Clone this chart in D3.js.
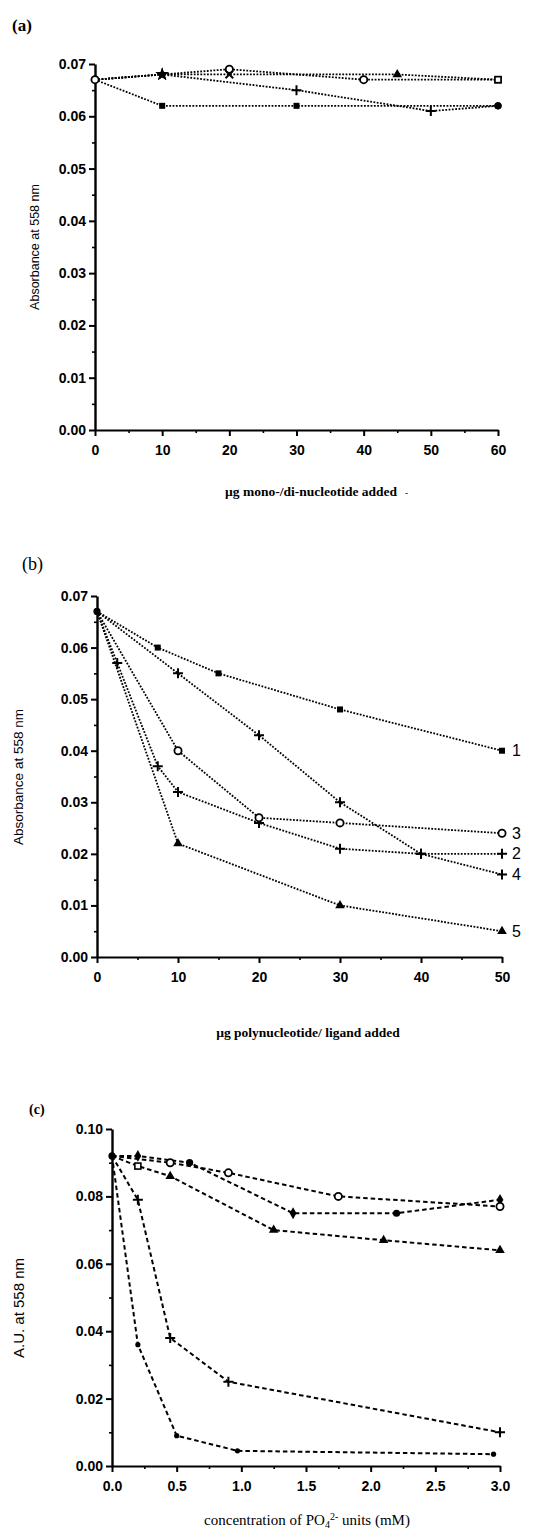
<!DOCTYPE html>
<html><head><meta charset="utf-8">
<script src="https://cdn.jsdelivr.net/npm/d3@7"></script>
<style>
html,body{margin:0;padding:0;background:#fff;}
svg{display:block;}
.tick text{font-family:"Liberation Sans",Arial,sans-serif;font-weight:bold;font-size:14px;fill:#000;}
</style></head><body>
<svg id="chart" width="557" height="1529"></svg>
<script>
// ---------- Panel (a) data ----------
const aTicksX = [0,10,20,30,40,50,60];
const aMinorX = [5,15,25,35,45,55];
const aTicksY = [0,0.01,0.02,0.03,0.04,0.05,0.06,0.07];
const aMinorY = [0.005,0.015,0.025,0.035,0.045,0.055,0.065];
const a1X = [0,10,30,60],        a1Y = [0.067,0.062,0.062,0.062];
const a2X = [0,10,30,50,60],     a2Y = [0.067,0.068,0.065,0.061,0.062];
const a3X = [0,10,20,40,60],     a3Y = [0.067,0.068,0.069,0.067,0.067];
const a4X = [0,10,20,45,60],     a4Y = [0.067,0.068,0.068,0.068,0.067];
const a1S = ["oc","fs","fs","fc"];
const a2S = ["oc","star","plus","plus","fc"];
const a3S = ["oc","star","oc","oc","os"];
const a4S = ["oc","star","x","tri","os"];

// ---------- Panel (b) data ----------
const bTicksX = [0,10,20,30,40,50];
const bMinorX = [5,15,25,35,45];
const bTicksY = [0,0.01,0.02,0.03,0.04,0.05,0.06,0.07];
const bMinorY = [0.005,0.015,0.025,0.035,0.045,0.055,0.065];
const b1X = [0,7.5,15,30,50],          b1Y = [0.067,0.060,0.055,0.048,0.040];
const b2X = [0,2.5,7.5,10,20,30,40,50], b2Y = [0.067,0.057,0.037,0.032,0.026,0.021,0.020,0.020];
const b3X = [0,10,20,30,50],           b3Y = [0.067,0.040,0.027,0.026,0.024];
const b4X = [0,10,20,30,40,50],        b4Y = [0.067,0.055,0.043,0.030,0.020,0.016];
const b5X = [0,10,30,50],              b5Y = [0.067,0.022,0.010,0.005];
const bLabels = ["1","2","3","4","5"];
const b1S = ["fc","fs","fs","fs","fs"];
const b2S = ["fc","plus","plus","plus","plus","plus","plus","plus"];
const b3S = ["fc","oc","oc","oc","oc"];
const b4S = ["fc","plus","plus","plus","plus","plus"];
const b5S = ["fc","tri","tri","tri"];

// ---------- Panel (c) data ----------
const cTicksX = [0,0.5,1.0,1.5,2.0,2.5,3.0];
const cMinorX = [0.25,0.75,1.25,1.75,2.25,2.75];
const cTicksY = [0,0.02,0.04,0.06,0.08,0.10];
const cMinorY = [0.01,0.03,0.05,0.07,0.09];
const c1X = [0,0.2,0.6,1.4,2.2,3.0],      c1Y = [0.092,0.092,0.090,0.075,0.075,0.079];
const c2X = [0,0.45,0.9,1.75,3.0],        c2Y = [0.092,0.090,0.087,0.080,0.077];
const c3X = [0,0.2,0.45,1.25,2.1,3.0],    c3Y = [0.092,0.089,0.086,0.070,0.067,0.064];
const c4X = [0,0.2,0.45,0.9,3.0],         c4Y = [0.092,0.079,0.038,0.025,0.010];
const c5X = [0,0.2,0.5,0.97,2.95],        c5Y = [0.092,0.036,0.009,0.0045,0.0035];
const c1S = ["fc","diam","fc","diam","fc","diam"];
const c2S = ["fc","oc","oc","oc","oc"];
const c3S = ["fc","os","tri","tri","tri","tri"];
const c4S = ["fc","plus","plus","plus","plus"];
const c5S = ["fc","dot","dot","dot","dot"];

const svg = d3.select("#chart");
const SANS = '"Liberation Sans", Arial, sans-serif';
const SERIF = '"Liberation Serif", "Times New Roman", serif';

function marker(g, shape, x, y) {
  switch (shape) {
    case "oc": g.append("circle").attr("cx",x).attr("cy",y).attr("r",3.6).attr("fill","#fff").attr("stroke","#000").attr("stroke-width",1.8); break;
    case "fc": g.append("circle").attr("cx",x).attr("cy",y).attr("r",3.6).attr("fill","#000"); break;
    case "dot": g.append("circle").attr("cx",x).attr("cy",y).attr("r",2.6).attr("fill","#000"); break;
    case "fs": g.append("rect").attr("x",x-3).attr("y",y-3).attr("width",6).attr("height",6).attr("fill","#000"); break;
    case "os": g.append("rect").attr("x",x-3).attr("y",y-3).attr("width",6).attr("height",6).attr("fill","#fff").attr("stroke","#000").attr("stroke-width",1.6); break;
    case "plus": g.append("path").attr("d",`M${x-5},${y}H${x+5}M${x},${y-5}V${y+5}`).attr("stroke","#000").attr("stroke-width",2); break;
    case "x": g.append("path").attr("d",d3.symbol(d3.symbolTimes,40)()).attr("transform",`translate(${x},${y})`).attr("stroke","#000").attr("stroke-width",2).attr("fill","none"); break;
    case "tri": g.append("path").attr("d",d3.symbol(d3.symbolTriangle,40)()).attr("transform",`translate(${x},${y})`).attr("fill","#000"); break;
    case "star": g.append("path").attr("d",d3.symbol(d3.symbolStar,55)()).attr("transform",`translate(${x},${y})`).attr("fill","#000"); break;
    case "diam": g.append("path").attr("d",d3.symbol(d3.symbolDiamond,40)()).attr("transform",`translate(${x},${y})`).attr("fill","#000"); break;
  }
}

function panel(cfg) {
  const g = svg.append("g");
  const x = d3.scaleLinear().domain(cfg.xDomain).range(cfg.xRange);
  const y = d3.scaleLinear().domain(cfg.yDomain).range(cfg.yRange);
  const y0 = cfg.yRange[0], x0 = cfg.xRange[0];

  // minor ticks
  g.append("g").attr("transform",`translate(0,${y0})`)
    .call(d3.axisBottom(x).tickValues(cfg.minorX).tickSize(3).tickSizeOuter(0).tickFormat(""))
    .call(a => a.select(".domain").remove())
    .call(a => a.selectAll("line").attr("stroke-width",1.6));
  g.append("g").attr("transform",`translate(${x0},0)`)
    .call(d3.axisLeft(y).tickValues(cfg.minorY).tickSize(3).tickSizeOuter(0).tickFormat(""))
    .call(a => a.select(".domain").remove())
    .call(a => a.selectAll("line").attr("stroke-width",1.6));

  // major axes
  g.append("g").attr("transform",`translate(0,${y0})`)
    .call(d3.axisBottom(x).tickValues(cfg.ticksX).tickSize(6).tickSizeOuter(0).tickPadding(9).tickFormat(cfg.fmtX))
    .call(a => a.select(".domain").attr("stroke-width",2.2))
    .call(a => a.selectAll("line").attr("stroke-width",2));
  g.append("g").attr("transform",`translate(${x0},0)`)
    .call(d3.axisLeft(y).tickValues(cfg.ticksY).tickSize(6).tickSizeOuter(0).tickPadding(3).tickFormat(cfg.fmtY))
    .call(a => a.select(".domain").attr("stroke-width",2.4))
    .call(a => a.selectAll("line").attr("stroke-width",2));

  // series lines
  const line = d3.line().x(d => x(d[0])).y(d => y(d[1]));
  cfg.series.forEach(s => {
    const pts = s.x.map((v,i) => [v, s.y[i]]);
    g.append("path").attr("d", line(pts)).attr("fill","none").attr("stroke","#000")
      .attr("stroke-width", cfg.lineWidth).attr("stroke-dasharray", cfg.dash);
  });
  // markers (origin last so it sits on top)
  cfg.series.forEach(s => {
    s.x.forEach((v,i) => { if (i>0) marker(g, s.shapes[i], x(v), y(s.y[i])); });
  });
  const s0 = cfg.series[0];
  marker(g, s0.shapes[0], x(s0.x[0]), y(s0.y[0]));

  // end labels
  if (cfg.endLabels) {
    cfg.series.forEach((s,i) => {
      const n = s.x.length - 1;
      g.append("text").attr("x", x(s.x[n]) + 10).attr("y", y(s.y[n]) + 5.5)
        .attr("font-family", SANS).attr("font-size", 16).text(cfg.endLabels[i]);
    });
  }
  return {g, x, y};
}

const f2 = d3.format(".2f"), f0 = d3.format("d"), f1 = d3.format(".1f");

// Panel (a)
panel({
  xDomain:[0,60], xRange:[95,498], yDomain:[0,0.07], yRange:[430,64],
  ticksX:aTicksX, minorX:aMinorX, ticksY:aTicksY, minorY:aMinorY, fmtX:f0, fmtY:f2,
  dash:"1.8,1.5", lineWidth:1.8,
  series:[
    {x:a1X,y:a1Y,shapes:a1S},{x:a2X,y:a2Y,shapes:a2S},{x:a3X,y:a3Y,shapes:a3S},{x:a4X,y:a4Y,shapes:a4S}
  ]
});
// Panel (b)
panel({
  xDomain:[0,50], xRange:[97,502], yDomain:[0,0.07], yRange:[957,596],
  ticksX:bTicksX, minorX:bMinorX, ticksY:bTicksY, minorY:bMinorY, fmtX:f0, fmtY:f2,
  dash:"1.8,1.5", lineWidth:1.8,
  series:[
    {x:b1X,y:b1Y,shapes:b1S},{x:b2X,y:b2Y,shapes:b2S},{x:b3X,y:b3Y,shapes:b3S},{x:b4X,y:b4Y,shapes:b4S},{x:b5X,y:b5Y,shapes:b5S}
  ],
  endLabels: bLabels
});
// Panel (c)
panel({
  xDomain:[0,3], xRange:[112,500], yDomain:[0,0.10], yRange:[1466,1129],
  ticksX:cTicksX, minorX:cMinorX, ticksY:cTicksY, minorY:cMinorY, fmtX:f1, fmtY:f2,
  dash:"4.5,3", lineWidth:2,
  series:[
    {x:c1X,y:c1Y,shapes:c1S},{x:c2X,y:c2Y,shapes:c2S},{x:c3X,y:c3Y,shapes:c3S},{x:c4X,y:c4Y,shapes:c4S},{x:c5X,y:c5Y,shapes:c5S}
  ]
});

// Panel labels
svg.append("text").attr("x",12).attr("y",31).attr("font-family",SERIF).attr("font-weight","bold").attr("font-size",17).text("(a)");
svg.append("text").attr("x",22).attr("y",570).attr("font-family",SERIF).attr("font-size",18).text("(b)");
svg.append("text").attr("x",29).attr("y",1114).attr("font-family",SERIF).attr("font-weight","bold").attr("font-size",14).text("(c)");

// Y-axis titles
svg.append("text").attr("transform","translate(39,247) rotate(-90)").attr("text-anchor","middle")
  .attr("font-family",SANS).attr("font-size",12.5).text("Absorbance at 558 nm");
svg.append("text").attr("transform","translate(23,777) rotate(-90)").attr("text-anchor","middle")
  .attr("font-family",SANS).attr("font-size",13.5).text("Absorbance at 558 nm");
svg.append("text").attr("transform","translate(24,1308) rotate(-90)").attr("text-anchor","middle")
  .attr("font-family",SANS).attr("font-size",15).text("A.U. at 558 nm");

// X-axis titles
const ta = svg.append("text").attr("x",225).attr("y",496).attr("font-family",SERIF).attr("font-weight","bold").attr("font-size",13.5);
ta.append("tspan").text("µg mono-/di-nucleotide added");
ta.append("tspan").attr("dx",8).attr("font-size",9).text("-");
svg.append("text").attr("x",308).attr("y",1037).attr("text-anchor","middle").attr("font-family",SERIF).attr("font-weight","bold").attr("font-size",13.5)
  .text("µg polynucleotide/ ligand added");
const tc = svg.append("text").attr("x",307).attr("y",1525).attr("text-anchor","middle").attr("font-family",SERIF).attr("font-size",15);
tc.append("tspan").text("concentration of PO");
tc.append("tspan").attr("font-size",10).attr("dy",3).text("4");
tc.append("tspan").attr("font-size",10).attr("dy",-8).text("2-");
tc.append("tspan").attr("dy",5).text(" units (mM)");
</script>
</body></html>
